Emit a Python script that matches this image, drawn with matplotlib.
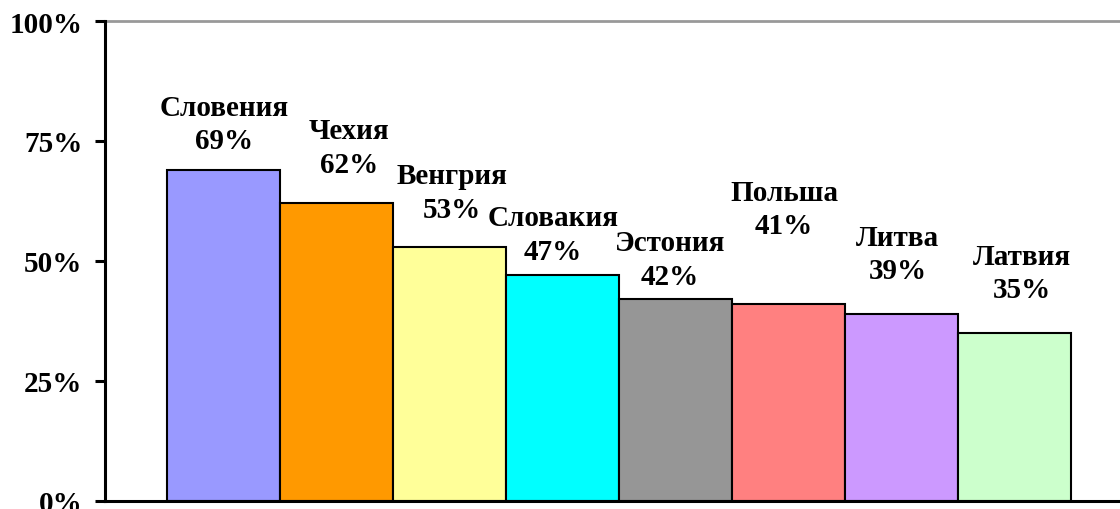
import matplotlib.pyplot as plt
from matplotlib.ticker import FixedLocator, FuncFormatter

countries = ['Словения', 'Чехия', 'Венгрия', 'Словакия',
             'Эстония', 'Польша', 'Литва', 'Латвия']
shares = [69, 62, 53, 47, 42, 41, 39, 35]
colors = ['#9999FF', '#FF9900', '#FFFF99', '#00FFFF',
          '#969696', '#FF8080', '#CC99FF', '#CCFFCC']

# label block offsets from bar top centre, in pixels (placed by hand in the original)
label_dx = [0, 12, 2, -10, -6, -5, -4, 7]
label_dy = [46, 56, 54, 41, 40, 95, 60, 60]

plt.rcParams['font.family'] = ['Liberation Serif', 'DejaVu Serif']
plt.rcParams['font.weight'] = 'bold'

fig = plt.figure(figsize=(11.2, 5.1), dpi=100)
ax = fig.add_axes([105 / 1120, 8 / 510, 1 - 105 / 1120, 480 / 510])

x = list(range(len(countries)))
ax.bar(x, shares, width=1.0, color=colors, edgecolor='black', linewidth=1.5)

for i in x:
    ax.annotate('%s\n%d%%' % (countries[i], shares[i]), (i, shares[i]),
                xytext=(label_dx[i] * 0.72, label_dy[i] * 0.72),
                textcoords='offset points', ha='center', va='center',
                fontsize=21, fontweight='bold', linespacing=1.3)

ax.set_ylim(0, 100)
ax.set_xlim(-1.053, 7.93)
ax.yaxis.set_major_locator(FixedLocator([0, 25, 50, 75, 100]))
ax.yaxis.set_major_formatter(FuncFormatter(lambda v, p: '%d%%' % v))
ax.set_xticks([])
ax.tick_params(axis='y', length=7.2, width=2.2, pad=9, labelsize=21)
for t in ax.get_yticklabels():
    t.set_fontweight('bold')

ax.spines['right'].set_visible(False)
ax.spines['top'].set_color('#999999')
ax.spines['top'].set_linewidth(2)
ax.spines['left'].set_linewidth(2.2)
ax.spines['bottom'].set_linewidth(2.2)
ax.spines['left'].set_zorder(5)

fig.savefig('out.png', dpi=100)
